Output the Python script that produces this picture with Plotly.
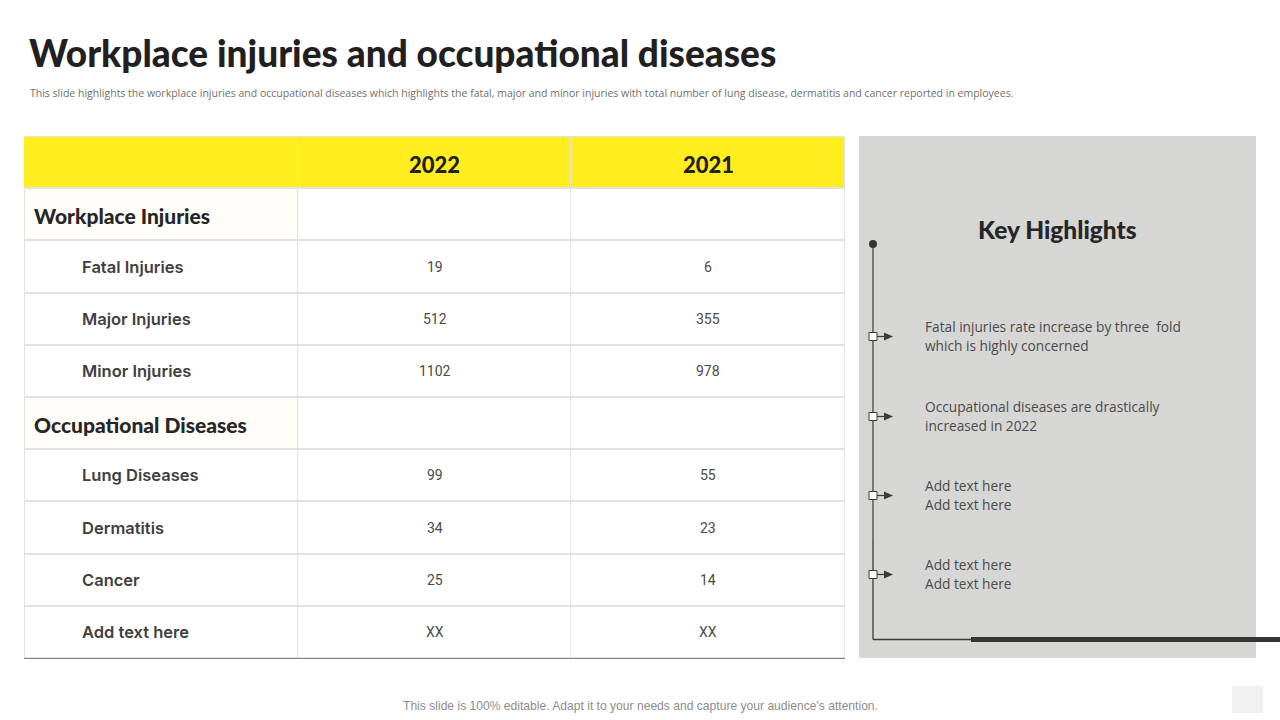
import plotly.graph_objects as go

W, H = 1280, 720

title = "Workplace injuries and occupational diseases"
subtitle = ("This slide highlights the workplace injuries and occupational diseases which highlights the fatal, "
            "major and minor injuries with total number of lung disease, dermatitis and cancer reported in employees.")
footer = "This slide is 100% editable. Adapt it to your needs and capture your audience's attention."

columns = ["", "2022", "2021"]
rows = ["Header", "Workplace Injuries", "Fatal Injuries", "Major Injuries", "Minor Injuries",
        "Occupational Diseases", "Lung Diseases", "Dermatitis", "Cancer", "Add text here"]
groups = ["Workplace Injuries", "Occupational Diseases"]
values_2022 = ["", "", "19", "512", "1102", "", "99", "34", "25", "XX"]
values_2021 = ["", "", "6", "355", "978", "", "55", "23", "14", "XX"]

panel_title = "Key Highlights"
highlights = [["Fatal injuries rate increase by three  fold", "which is highly concerned"],
              ["Occupational diseases are drastically", "increased in 2022"],
              ["Add text here", "Add text here"],
              ["Add text here", "Add text here"]]
highlight_y = [336.5, 416.5, 495.5, 574.5]


def px(x):
    return x / W


def py(y):
    return 1 - y / H


# 셀 배경: 0=흰색, 1=연한 크림색, 2=노란색 헤더
z = []
for r in rows:
    if r == "Header":
        z.append([2, 2, 2])
    elif r in groups:
        z.append([1, 0, 0])
    else:
        z.append([0, 0, 0])

col_pos = list(range(len(columns)))

fig = go.Figure()
fig.add_trace(go.Heatmap(
    x=col_pos, y=rows, z=z, xgap=1, ygap=2, showscale=False, hoverinfo="skip", zmin=0, zmax=2,
    colorscale=[[0, "#ffffff"], [0.5, "#fffef9"], [1, "#ffed1f"]],
))

annotations = []

# 연도 값
for pos, vals in [(1, values_2022), (2, values_2021)]:
    for r, v in zip(rows, vals):
        if v:
            annotations.append(dict(x=pos, y=r, xref="x", yref="y", text=v, showarrow=False,
                                    font=dict(family="Roboto", size=14, color="#4a4a4a")))

# 헤더 연도
for pos in [1, 2]:
    annotations.append(dict(x=pos, y="Header", xref="x", yref="y", text=columns[pos], showarrow=False, yshift=-2,
                            font=dict(family="Lato", size=22, weight=900, color="#231f20")))

# 행 이름
for r in rows[1:]:
    if r in groups:
        annotations.append(dict(x=0, y=r, xref="x", yref="y", text=r, showarrow=False, yshift=-1,
                                xanchor="left", xshift=-129, font=dict(family="Lato", size=21, weight=900, color="#262626")))
    else:
        annotations.append(dict(x=0, y=r, xref="x", yref="y", text=r, showarrow=False,
                                xanchor="left", xshift=-81, font=dict(family="Inter", size=16.5, weight=600, color="#404040")))


def add_text(x, y, text, size, color, family, anchor="left", weight=400):
    annotations.append(dict(x=px(x), y=py(y), xref="paper", yref="paper", text=text, showarrow=False, xanchor=anchor,
                            yanchor="middle", align="left",
                            font=dict(family=family, size=size, weight=weight, color=color)))


add_text(27, 53, title, 37, "#231f20", "Lato", weight=900)
add_text(28, 93, subtitle, 10.5, "#6f6f6f", "Open Sans")
add_text(640, 705.5, footer, 12.1, "#8c8c8c", "Liberation Sans", anchor="center")
add_text(1057, 230, panel_title, 24.5, "#262626", "Lato", anchor="center", weight=900)
for lines, y in zip(highlights, highlight_y):
    add_text(923, y - 10, lines[0], 13.7, "#4a4a4a", "Open Sans")
    add_text(923, y + 9, lines[1], 13.7, "#4a4a4a", "Open Sans")

shapes = []


def add_rect(x0, y0, x1, y1, fill, line=None, width=0, layer="above"):
    shapes.append(dict(type="rect", xref="paper", yref="paper", x0=px(x0), x1=px(x1), y0=py(y0), y1=py(y1),
                       fillcolor=fill, line=dict(color=line, width=width), layer=layer))


def add_line(x0, y0, x1, y1, color, width):
    shapes.append(dict(type="line", xref="paper", yref="paper", x0=px(x0), x1=px(x1), y0=py(y0), y1=py(y1),
                       line=dict(color=color, width=width)))


# 오른쪽 회색 패널과 타임라인
add_rect(859, 136, 1256, 658, "#d6d6d4", layer="below")
add_rect(1232, 686, 1263, 713, "#f0f0f0", layer="below")
add_line(24.5, 189, 24.5, 658, "#e2e2e2", 1)
add_line(844.5, 189, 844.5, 658, "#e2e2e2", 1)
add_line(24, 658.5, 845, 658.5, "#808080", 1.2)
add_line(873, 244, 873, 540, "#777777", 2)
add_line(873, 540, 873, 639.5, "#3a3a38", 1.3)
add_line(873, 639.5, 972, 639.5, "#3a3a38", 1.3)
add_line(971, 639.5, 1280, 639.5, "#353533", 5)
shapes.append(dict(type="circle", xref="paper", yref="paper", x0=px(869), x1=px(877), y0=py(240), y1=py(248),
                   fillcolor="#353533", line=dict(width=0)))
for y in highlight_y:
    add_line(877, y, 885, y, "#3a3a38", 1.2)
    shapes.append(dict(type="path", xref="paper", yref="paper",
                       path=f"M {px(884)} {py(y - 4)} L {px(893)} {py(y)} L {px(884)} {py(y + 4)} Z",
                       fillcolor="#3a3a38", line=dict(width=0)))
    add_rect(869, y - 4, 877, y + 4, "#ffffff", "#3a3a38", 1)

fig.update_layout(
    width=W, height=H, margin=dict(l=0, r=0, t=0, b=0), showlegend=False,
    paper_bgcolor="#ffffff", plot_bgcolor="#e2e2e2",
    annotations=annotations, shapes=shapes,
    xaxis=dict(domain=[px(24), px(845)], range=[-0.5, 2.5], visible=False, fixedrange=True),
    yaxis=dict(domain=[py(658), py(136)], type="category", categoryorder="array", categoryarray=rows,
               autorange="reversed", visible=False, fixedrange=True),
)

fig.write_html("out.html", config={"displayModeBar": False}, post_script="document.body.style.margin = '0';")
